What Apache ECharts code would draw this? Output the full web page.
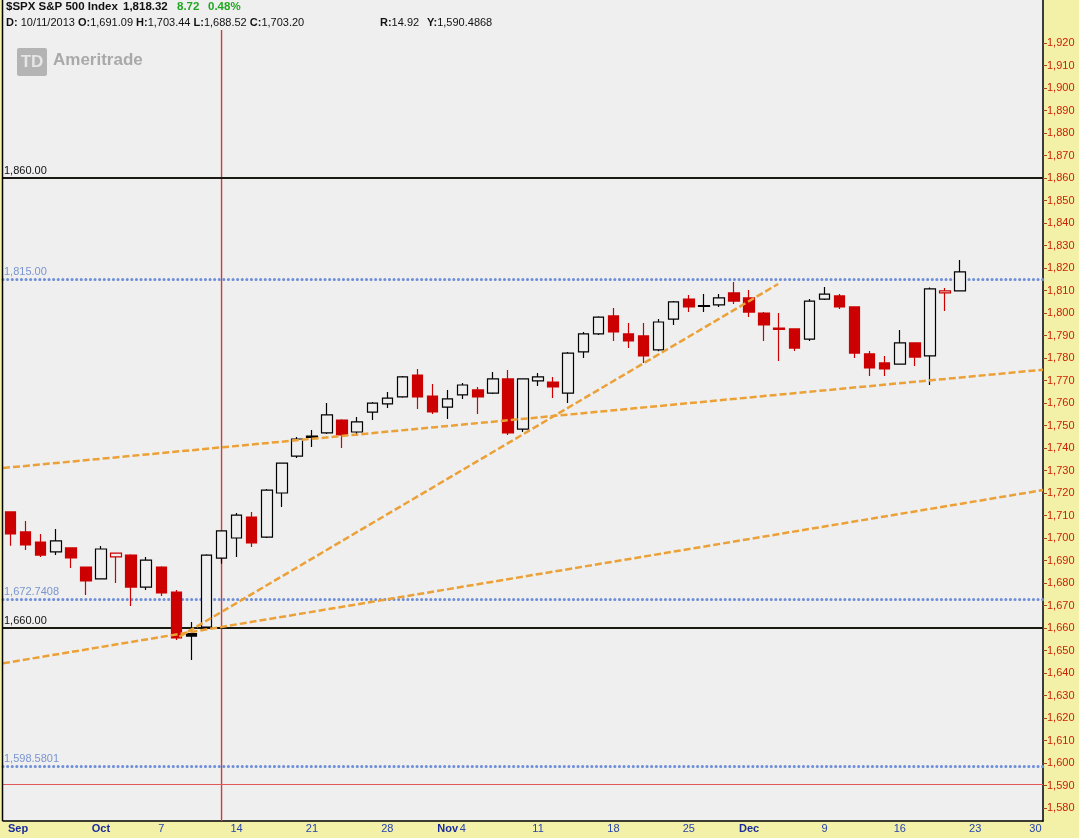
<!DOCTYPE html>
<html><head><meta charset="utf-8">
<script src="https://cdn.jsdelivr.net/npm/echarts@6/dist/echarts.min.js"></script>
<style>html,body{margin:0;padding:0;background:#f3f0a8;} #c{width:1079px;height:838px;}</style>
</head><body><div id="c"></div>
<script>
// ---- data ----
const dates = ['9/23','9/24','9/25','9/26','9/27','9/30','10/1','10/2','10/3','10/4','10/7','10/8','10/9','10/10','10/11',
  '10/14','10/15','10/16','10/17','10/18','10/21','10/22','10/23','10/24','10/25','10/28','10/29','10/30','10/31','11/1',
  '11/4','11/5','11/6','11/7','11/8','11/11','11/12','11/13','11/14','11/15','11/18','11/19','11/20','11/21','11/22',
  '11/25','11/26','11/27','11/29','12/2','12/3','12/4','12/5','12/6','12/9','12/10','12/11','12/12','12/13',
  '12/16','12/17','12/18','12/19','12/20'];
const futureDates = ['12/23','12/24','12/26','12/27','12/30'];
const opens = [1711.6,1702.7,1698.2,1693.8,1695.6,1687.1,1681.8,1691.6,1692.4,1678.2,1687.1,1676.0,1657.5,1660.4,1691.09,
  1700.0,1709.3,1700.4,1720.0,1736.4,1745.3,1746.7,1752.4,1747.1,1755.9,1759.6,1762.7,1772.4,1763.1,1758.2,
  1763.6,1765.8,1764.4,1770.7,1748.4,1769.8,1769.3,1764.4,1782.7,1790.7,1798.7,1790.7,1789.8,1783.6,1797.3,
  1806.2,1803.3,1803.6,1808.9,1806.7,1800.0,1793.3,1792.9,1788.4,1806.2,1807.6,1802.7,1781.8,1777.8,
  1777.3,1786.7,1780.9,1808.9,1809.8];
const highs = [1711.8,1707.6,1701.8,1704.0,1695.9,1687.3,1696.4,1693.5,1692.8,1691.6,1687.4,1676.9,1662.7,1692.8,1703.44,
  1711.1,1711.6,1721.8,1733.6,1744.9,1748.0,1760.0,1752.8,1753.8,1760.4,1764.9,1772.0,1775.1,1768.4,1765.8,
  1768.9,1767.1,1773.8,1774.7,1771.0,1773.3,1771.6,1782.7,1791.6,1798.6,1802.2,1795.6,1795.6,1797.3,1805.3,
  1808.0,1808.4,1808.4,1813.8,1810.2,1800.4,1800.0,1793.1,1806.2,1811.6,1808.4,1803.0,1783.1,1780.9,
  1792.4,1787.0,1811.3,1811.1,1823.6];
const lows = [1696.6,1694.7,1691.6,1692.4,1686.7,1674.7,1681.5,1680.0,1669.8,1676.9,1674.2,1654.7,1645.8,1660.0,1688.52,
  1691.6,1696.0,1700.0,1713.8,1735.6,1740.4,1746.2,1740.0,1745.3,1752.4,1757.8,1762.3,1757.3,1755.1,1752.9,
  1761.8,1755.1,1764.0,1745.8,1747.1,1767.6,1762.2,1760.0,1780.0,1790.2,1787.6,1784.4,1777.8,1783.0,1794.7,
  1800.4,1800.4,1802.7,1804.0,1798.2,1787.6,1778.7,1783.1,1787.6,1805.8,1801.8,1780.0,1772.0,1772.0,
  1777.0,1776.4,1768.0,1800.9,1809.5];
const closes = [1701.8,1696.9,1692.4,1698.7,1691.1,1680.9,1695.1,1693.3,1678.2,1690.2,1675.6,1655.6,1656.4,1692.4,1703.20,
  1710.2,1697.8,1721.3,1733.3,1744.0,1744.7,1754.7,1745.8,1751.6,1759.9,1762.2,1771.6,1762.7,1756.0,1761.8,
  1768.0,1762.7,1770.7,1746.7,1770.7,1771.6,1767.1,1782.2,1790.7,1798.2,1791.6,1787.6,1780.9,1796.0,1804.9,
  1802.7,1802.9,1806.7,1805.3,1800.4,1794.7,1792.7,1784.4,1805.3,1808.4,1802.7,1782.2,1775.6,1775.1,
  1786.7,1780.4,1810.7,1809.8,1818.32];
const tickLabelDates = ['9/23','10/1','10/7','10/14','10/21','10/28','11/1','11/4','11/11','11/18','11/25','12/2','12/9','12/16','12/23','12/30'];
const tickLabelTexts = ['Sep','Oct','7','14','21','28','Nov','4','11','18','25','Dec','9','16','23','30'];
const yTickValues = [1580,1590,1600,1610,1620,1630,1640,1650,1660,1670,1680,1690,1700,1710,1720,1730,1740,1750,
  1760,1770,1780,1790,1800,1810,1820,1830,1840,1850,1860,1870,1880,1890,1900,1910,1920];
const solidLevels = [1860, 1660];
const solidLabels = ['1,860.00','1,660.00'];
const fibLevels = [1815, 1672.7408, 1598.5801];
const fibLabels = ['1,815.00','1,672.7408','1,598.5801'];
const crossIndex = 14;           // 10/11/2013
const crossValue = 1590.4868;
const crossTop = 1925.8;
const trendUpper = [[-0.5,1731.1],[68.5,1774.8]];
const trendLower = [[-0.5,1644.3],[68.5,1721.3]];
const trendSteep = [[11.2,1656.1],[50.93,1812.9]];

// ---- chart ----
const FONT = 'Liberation Sans';
const RED = '#cc0000', BLACK = '#000000', HOLLOW = '#efefef';
const Y_MIN = 1574.22, Y_MAX = 1939.11;
const categories = dates.concat(futureDates);
const candleData = dates.map((d,i)=>{
  const o = opens[i], c = closes[i];
  const down = i === 0 ? c < o : c < closes[i-1];
  const col = down ? RED : BLACK;
  const fill = c > o ? HOLLOW : col;
  return {value:[o,c,lows[i],highs[i]], itemStyle:{color:fill, color0:fill, borderColor:col, borderColor0:col}};
});
const labelMap = {};
tickLabelDates.forEach((d,i)=>{ labelMap[d] = tickLabelTexts[i]; });

const markData = [];
solidLevels.forEach((v,i)=>markData.push({yAxis:v,
  lineStyle:{color:'#1a1a12', width:2, type:'solid'},
  label:{show:true, formatter:solidLabels[i], color:'#111', position:'insideStartTop', distance:[1,2], fontSize:11, fontFamily:FONT}}));
fibLevels.forEach((v,i)=>markData.push({yAxis:v,
  lineStyle:{color:'#6e8fd8', width:3, type:[0.1,4.5], cap:'round'},
  label:{show:true, formatter:fibLabels[i], color:'#7a95cf', position:'insideStartTop', distance:[1,2], fontSize:11, fontFamily:FONT}}));
markData.push({yAxis:crossValue, lineStyle:{color:'#e05a5a', width:1, type:'solid'}, label:{show:false}});

const trendStyle = {color:'#eba137', width:2.5, type:[7,3]};
function trendSeries(d){ return {type:'line', xAxisIndex:1, yAxisIndex:0, data:d, symbol:'none', lineStyle:trendStyle, z:4, silent:true}; }

const chart = echarts.init(document.getElementById('c'), null, {renderer:'canvas'});
chart.setOption({
  animation:false,
  backgroundColor:'#f3f0a8',
  grid:{left:3, right:36, top:0, bottom:17, show:true, backgroundColor:'#efefef', borderWidth:0},
  xAxis:[{
    type:'category', data:categories, boundaryGap:true,
    axisLine:{show:true, onZero:false, lineStyle:{color:'#000', width:1.5}},
    axisTick:{show:false},
    splitLine:{show:false},
    axisLabel:{
      interval:(idx,val)=>labelMap.hasOwnProperty(val),
      margin:2, fontSize:11, fontFamily:FONT, color:'#2844b0',
      formatter:(val)=>{
        const t = labelMap[val];
        if (t === undefined) return '';
        if (t === 'Sep') return '{ms|' + t + '}';
        if (/^[A-Za-z]/.test(t)) return '{m|' + t + '}';
        return '{n|' + t + '}';
      },
      rich:{
        ms:{fontWeight:'bold', color:'#1a2c9c', fontSize:11, fontFamily:FONT, padding:[0,0,0,15]},
        m:{fontWeight:'bold', color:'#1a2c9c', fontSize:11, fontFamily:FONT},
        n:{color:'#2844b0', fontSize:11, fontFamily:FONT}
      }
    }
  },{
    type:'value', min:-0.5, max:68.5, show:false, axisLine:{onZero:false}, splitLine:{show:false}
  }],
  yAxis:[{
    type:'value', position:'right', min:Y_MIN, max:Y_MAX, scale:true,
    splitLine:{show:false},
    axisLine:{show:true, onZero:false, lineStyle:{color:'#000', width:1.5}},
    axisTick:{show:true, length:4, customValues:yTickValues, lineStyle:{color:'#b04020'}},
    axisLabel:{customValues:yTickValues, color:'#cc2200', fontSize:11, fontFamily:FONT, margin:4,
      formatter:(v)=>Number(v).toLocaleString('en-US')}
  }],
  series:[{
    type:'line', xAxisIndex:1, yAxisIndex:0, data:[[crossIndex, Y_MIN],[crossIndex, crossTop]],
    symbol:'none', lineStyle:{color:'#d03c3c', width:1.4}, z:1, silent:true
  },{
    type:'candlestick', xAxisIndex:0, yAxisIndex:0, data:candleData, barWidth:11,
    itemStyle:{borderWidth:1.2},
    z:3,
    markLine:{silent:true, symbol:['none','none'], animation:false, data:markData, z:2}
  },
  trendSeries(trendUpper), trendSeries(trendLower), trendSeries(trendSteep)],
  graphic:[
    {type:'line', shape:{x1:2.5,y1:0,x2:2.5,y2:821}, style:{stroke:'#000', lineWidth:1.5}, z:100},
    {type:'text', x:6, y:7, z:100, style:{text:'$SPX S&P 500 Index', fontSize:11.5, fontWeight:'bold', fontFamily:FONT, fill:'#111', verticalAlign:'middle'}},
    {type:'text', x:123, y:7, z:100, style:{text:'1,818.32', fontSize:11.5, fontWeight:'bold', fontFamily:FONT, fill:'#111', verticalAlign:'middle'}},
    {type:'text', x:177, y:7, z:100, style:{text:'8.72', fontSize:11.5, fontWeight:'bold', fontFamily:FONT, fill:'#1fa81f', verticalAlign:'middle'}},
    {type:'text', x:208, y:7, z:100, style:{text:'0.48%', fontSize:11.5, fontWeight:'bold', fontFamily:FONT, fill:'#1fa81f', verticalAlign:'middle'}},
    {type:'text', x:6, y:23, z:100, style:{
      text:'{b|D:} 10/11/2013 {b|O:}1,691.09 {b|H:}1,703.44 {b|L:}1,688.52 {b|C:}1,703.20',
      fontSize:11, fontFamily:FONT, fill:'#111', verticalAlign:'middle',
      rich:{b:{fontWeight:'bold', fontSize:11, fontFamily:FONT, fill:'#111'}}}},
    {type:'text', x:380, y:23, z:100, style:{text:'{b|R:}14.92', fontSize:11, fontFamily:FONT, fill:'#111', verticalAlign:'middle',
      rich:{b:{fontWeight:'bold', fontSize:11, fontFamily:FONT, fill:'#111'}}}},
    {type:'text', x:427, y:23, z:100, style:{text:'{b|Y:}1,590.4868', fontSize:11, fontFamily:FONT, fill:'#111', verticalAlign:'middle',
      rich:{b:{fontWeight:'bold', fontSize:11, fontFamily:FONT, fill:'#111'}}}},
    {type:'rect', shape:{x:17, y:48, width:30, height:28, r:2}, style:{fill:'#b4b4b4'}, z:90},
    {type:'text', x:32, y:62.5, z:91, style:{text:'TD', fontSize:17, fontWeight:'bold', fontFamily:FONT, fill:'#e6e6e6', align:'center', verticalAlign:'middle'}},
    {type:'text', x:53, y:60, z:90, style:{text:'Ameritrade', fontSize:17, fontWeight:'bold', fontFamily:FONT, fill:'#a9a9a9', verticalAlign:'middle'}}
  ]
});
</script>
</body></html>
